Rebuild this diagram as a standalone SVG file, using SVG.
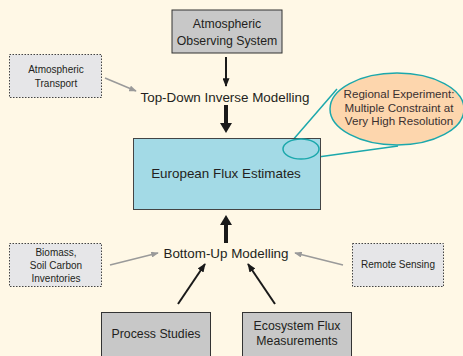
<svg xmlns="http://www.w3.org/2000/svg" width="463" height="356" viewBox="0 0 463 356">
<defs>
<style>
text{font-family:"Liberation Sans",Arial,sans-serif;fill:#231f20;text-anchor:middle}
.solid{fill:#c8c8c8;stroke:#333;stroke-width:1}
.dot{fill:#e6e6e8;stroke:#444;stroke-width:1;stroke-dasharray:1.5 1.5}
.big{font-size:13.4px}
.mid{font-size:12.3px}
.sm{font-size:10px}
.co{font-size:11.6px;fill:#3a3030}
.blk{stroke:#1a1a1a;stroke-width:2;fill:none}
.gry{stroke:#9a9a9a;stroke-width:1.5;fill:none}
.teal{stroke:#1ca8ac;stroke-width:1.5;fill:none}
</style>
<marker id="ab" viewBox="0 0 10 8" refX="9" refY="4" markerWidth="9" markerHeight="7" markerUnits="userSpaceOnUse" orient="auto"><path d="M0,0 L10,4 L0,8 z" fill="#1a1a1a"/></marker>
<marker id="ag" viewBox="0 0 10 8" refX="9" refY="4" markerWidth="8" markerHeight="6" markerUnits="userSpaceOnUse" orient="auto"><path d="M0,0 L10,4 L0,8 z" fill="#9a9a9a"/></marker>
</defs>
<rect x="0" y="0" width="463" height="356" fill="#fff8e6"/>

<g id="connectors">
<line class="blk" x1="226" y1="57" x2="226" y2="86" stroke-width="1.6" marker-end="url(#ab)"/>
<rect x="224" y="105" width="4" height="19" fill="#1a1a1a"/>
<polygon points="220,123 232,123 226,133" fill="#1a1a1a"/>
<rect x="224" y="224" width="4" height="19" fill="#1a1a1a"/>
<polygon points="220,225 232,225 226,215" fill="#1a1a1a"/>
<line class="gry" x1="105" y1="78" x2="136" y2="91" marker-end="url(#ag)"/>
<line class="gry" x1="110" y1="265" x2="158" y2="253" marker-end="url(#ag)"/>
<line class="gry" x1="343" y1="265" x2="295" y2="253" marker-end="url(#ag)"/>
<line class="blk" x1="178" y1="304" x2="205" y2="264" marker-end="url(#ab)"/>
<line class="blk" x1="275" y1="304" x2="248" y2="264" marker-end="url(#ab)"/>
<line class="teal" stroke-width="1.2" x1="292" y1="141" x2="337" y2="89"/>
<line class="teal" stroke-width="1.2" x1="318" y1="157" x2="398" y2="146"/>
</g>

<g id="atm-observing">
<rect class="solid" x="172" y="10" width="110" height="43"/>
<text class="mid" x="227" y="27.5">Atmospheric</text>
<text class="mid" x="227" y="44.5">Observing System</text>
</g>

<g id="atm-transport">
<rect class="dot" x="9.5" y="54.5" width="92" height="43"/>
<text class="sm" x="56" y="72.5">Atmospheric</text>
<text class="sm" x="56" y="86.5">Transport</text>
</g>

<g id="top-down">
<text class="big" x="225" y="101.5">Top-Down Inverse Modelling</text>
</g>

<g id="european">
<rect x="133.5" y="138.5" width="187" height="71" fill="#a3dae6" stroke="#444" stroke-width="1"/>
<text class="big" x="226" y="178">European Flux Estimates</text>
<ellipse class="teal" cx="301" cy="149" rx="18" ry="10"/>
</g>

<g id="regional">
<ellipse cx="397" cy="109" rx="67" ry="36" fill="#fdd6ad" stroke="#1ca8ac" stroke-width="1.5"/>
<text class="co" x="399" y="98">Regional Experiment:</text>
<text class="co" x="399" y="111.5">Multiple Constraint at</text>
<text class="co" x="399" y="125">Very High Resolution</text>
</g>

<g id="bottom-up">
<text class="big" x="226" y="258">Bottom-Up Modelling</text>
</g>

<g id="biomass">
<rect class="dot" x="9.5" y="243.5" width="92" height="43"/>
<text class="sm" x="56" y="255.5">Biomass,</text>
<text class="sm" x="56" y="268.5">Soil Carbon</text>
<text class="sm" x="56" y="281.5">Inventories</text>
</g>

<g id="remote">
<rect class="dot" x="352.5" y="243.5" width="91" height="43"/>
<text class="sm" x="398" y="267.5">Remote Sensing</text>
</g>

<g id="process">
<rect class="solid" x="101.5" y="312.5" width="109" height="50"/>
<text class="mid" x="156" y="337.5">Process Studies</text>
</g>

<g id="ecosystem">
<rect class="solid" x="242.5" y="312.5" width="109" height="50"/>
<text class="mid" x="297" y="329.5">Ecosystem Flux</text>
<text class="mid" x="297" y="344.5">Measurements</text>
</g>
</svg>
